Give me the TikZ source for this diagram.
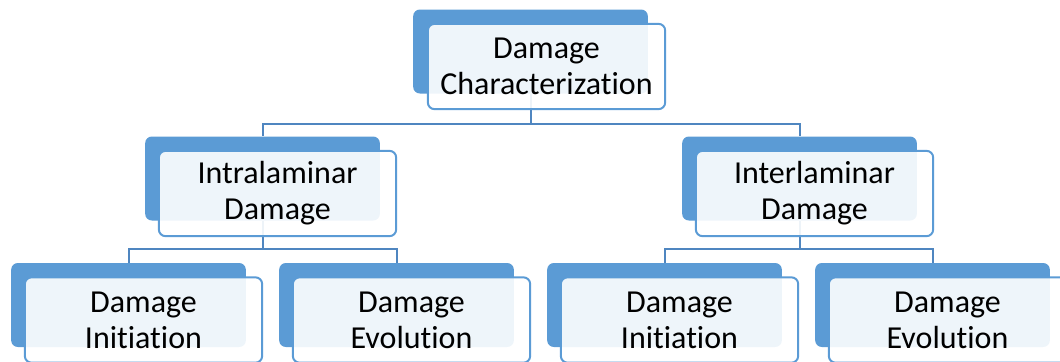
\documentclass[tikz,border=0pt]{standalone}
\usepackage{fontspec}
\setmainfont{Carlito}[Ligatures=NoCommon]
\usepackage{xcolor}
\definecolor{tabblue}{HTML}{5B9BD5}
\definecolor{linkblue}{HTML}{4F86C0}
\tikzset{
  backbox/.style={draw=none, fill=tabblue, rounded corners=5pt,
    minimum width=176pt, minimum height=63pt, inner sep=0pt},
  frontbox/.style={draw=tabblue, line width=1.5pt, fill=white, fill opacity=0.9,
    text opacity=1, rounded corners=5pt, minimum width=178pt, minimum height=64pt,
    inner sep=0pt, align=center, font=\fontsize{24}{27}\selectfont},
  link/.style={draw=linkblue, line width=1.5pt}
}
\begin{document}
\begin{tikzpicture}[x=0.75pt,y=-0.75pt]
\useasboundingbox (0,0) rectangle (1060,361);
\clip (0,0) rectangle (1060,361);

% back tabs
\node[backbox] (dc) at (530.5,51.5) {};
\node[backbox] (intra) at (262.5,178.5) {};
\node[backbox] (inter) at (799.5,178.5) {};
\node[backbox] (intrainit) at (128.5,305) {};
\node[backbox] (intraevol) at (396.5,305) {};
\node[backbox] (interinit) at (664.5,305) {};
\node[backbox] (interevol) at (932.5,305) {};

% connectors
\draw[link] (dc.south) -- ++(0,30) -| (intra.north);
\draw[link] (dc.south) -- ++(0,30) -| (inter.north);
\draw[link] (intra.south) -- ++(0,28) -| (intrainit.north);
\draw[link] (intra.south) -- ++(0,28) -| (intraevol.north);
\draw[link] (inter.south) -- ++(0,28) -| (interinit.north);
\draw[link] (inter.south) -- ++(0,28) -| (interevol.north);

% front boxes
\node[frontbox] (dct) at (546.5,66.5) {Damage\\Characterization};
\node[frontbox] (intrat) at (277.5,193.5) {Intralaminar\\Damage};
\node[frontbox] (intert) at (814.5,193.5) {Interlaminar\\Damage};
\node[frontbox] (intrainitt) at (143.5,320) {Damage\\Initiation};
\node[frontbox] (intraevolt) at (411.5,320) {Damage\\Evolution};
\node[frontbox] (interinitt) at (679.5,320) {Damage\\Initiation};
\node[frontbox] (interevolt) at (947.5,320) {Damage\\Evolution};
\end{tikzpicture}
\end{document}
